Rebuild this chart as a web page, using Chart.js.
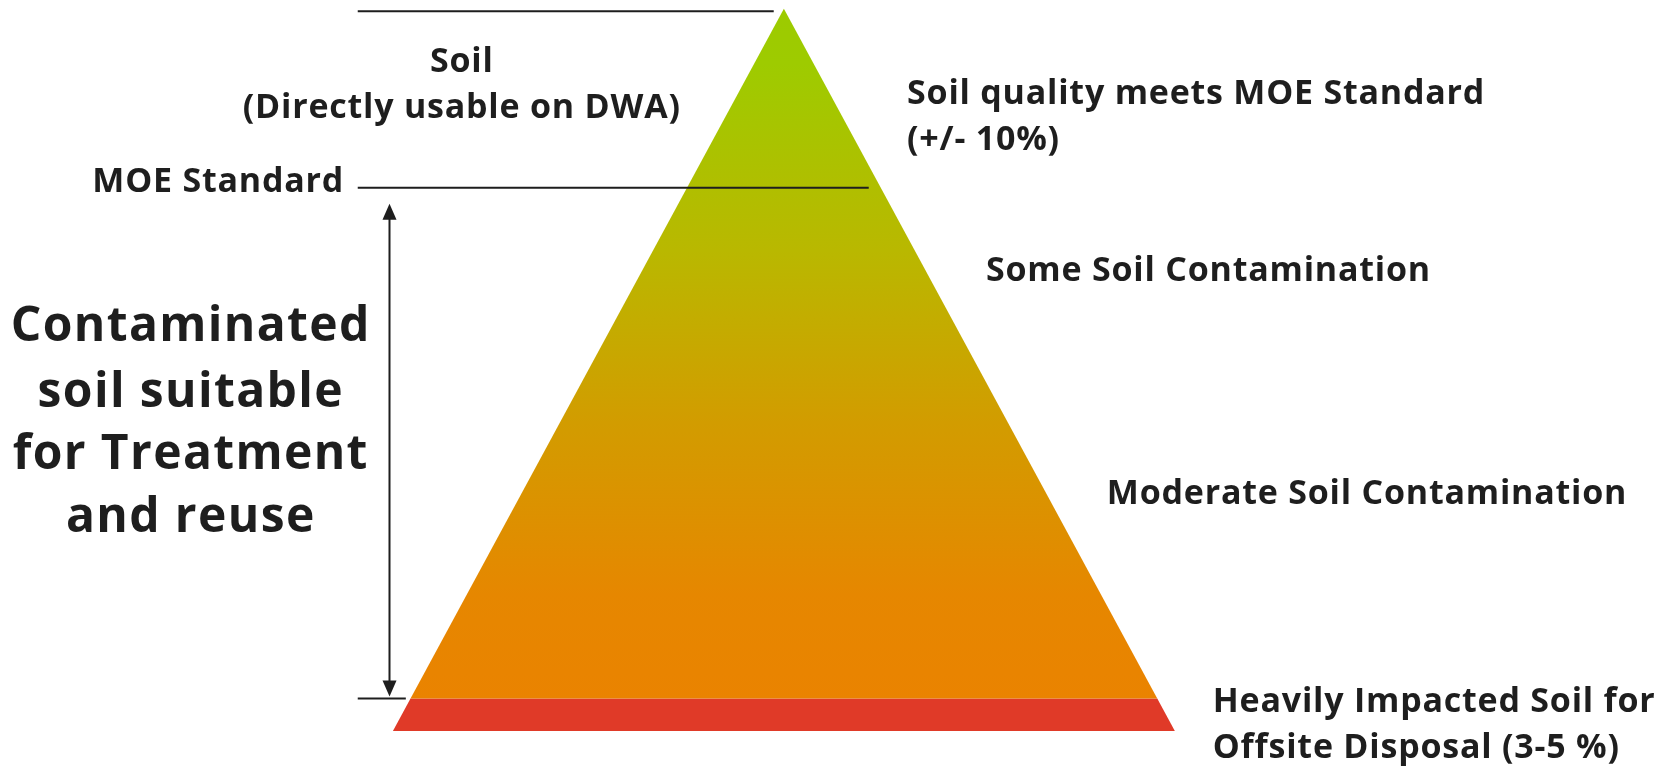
<!DOCTYPE html>
<html>
<head>
<meta charset="utf-8">
<script src="https://cdn.jsdelivr.net/npm/chart.js@4.4.1/dist/chart.umd.min.js"></script>
<style>
  html, body { margin: 0; padding: 0; background: #fff; }
  #wrap { width: 1662px; height: 766px; position: relative; }
</style>
</head>
<body>
<div id="wrap"><canvas id="pyramid"></canvas></div>
<script>
'use strict';

// Pyramid tiers, heights in % of the pyramid (0 = base, 100 = apex).
var tierNames = ['Heavily Impacted Soil', 'Contaminated soil', 'Soil'];
var tierBounds = [0, 4.5, 75.2, 100];
var baseHalfWidth = 100;

// Annotation texts
var rightLabels = [
  ['Soil quality meets MOE Standard', '(+/- 10%)'],
  ['Some Soil Contamination'],
  ['Moderate Soil Contamination'],
  ['Heavily Impacted Soil for', 'Offsite Disposal (3-5 %)']
];
var topLabel = ['Soil', '(Directly usable on DWA)'];
var moeLabel = 'MOE Standard';
var sideLabel = ['Contaminated', 'soil suitable', 'for Treatment', 'and reuse'];

// Where the labels sit, in chart units (x: % of half base, y: % height)
var rightLabelPos = [
  { x: 31.5, y: 88.2 },
  { x: 51.7, y: 63.7 },
  { x: 82.6, y: 32.8 },
  { x: 109.7, y: 4.0 }
];
var sideLabelY = [55.9, 46.7, 38.1, 29.4];
var leftX = -109;

var FONT = '"Open Sans", Lato, sans-serif';
var INK = '#1e1e1e';
var SMALL = 34, BIG = 48;

function halfWidthAt(h) {
  return baseHalfWidth * (1 - h / 100);
}

function polygon(h0, h1) {
  var pts = [
    { x: -halfWidthAt(h0), y: h0 },
    { x: -halfWidthAt(h1), y: h1 }
  ];
  if (halfWidthAt(h1) > 0) pts.push({ x: halfWidthAt(h1), y: h1 });
  pts.push({ x: halfWidthAt(h0), y: h0 });
  pts.push({ x: -halfWidthAt(h0), y: h0 });
  return pts;
}

function pyramidGradient(context) {
  var chart = context.chart;
  var y = chart.scales.y;
  if (!chart.chartArea || !y) return '#e98300';
  var top = y.getPixelForValue(100);
  var bot = y.getPixelForValue(tierBounds[1]);
  if (!isFinite(top) || !isFinite(bot)) return '#e98300';
  var g = chart.ctx.createLinearGradient(0, top, 0, bot);
  g.addColorStop(0, '#9ccb00');
  g.addColorStop(0.08, '#9ecb00');
  g.addColorStop(0.35, '#b9b800');
  g.addColorStop(0.6, '#d29c00');
  g.addColorStop(0.85, '#e68700');
  g.addColorStop(1, '#ea8300');
  return g;
}

// spacing so that the reference line has the wanted width
function spacingFor(ctx, text, width) {
  ctx.letterSpacing = '0px';
  var w = ctx.measureText(text).width;
  return Math.max(-1, (width - w) / text.length);
}

// Text, reference lines and the double arrow
var annotations = {
  id: 'annotations',
  afterDatasetsDraw: function(chart) {
    var ctx = chart.ctx;
    var sx = chart.scales.x, sy = chart.scales.y;
    var px = function(v) { return sx.getPixelForValue(v); };
    var py = function(v) { return sy.getPixelForValue(v); };

    ctx.save();
    ctx.strokeStyle = INK;
    ctx.lineWidth = 2;

    // reference lines
    ctx.beginPath();
    ctx.moveTo(px(leftX), py(tierBounds[3]) + 2.5);
    ctx.lineTo(px(-2.6), py(tierBounds[3]) + 2.5);
    ctx.moveTo(px(leftX), py(tierBounds[2]));
    ctx.lineTo(px(21.7), py(tierBounds[2]));
    ctx.moveTo(px(leftX), py(tierBounds[1]));
    ctx.lineTo(px(-96.7), py(tierBounds[1]));
    ctx.stroke();

    // double arrow between MOE standard and heavily impacted
    var ax = Math.round(px(-101)) + 0.5;
    var aTop = py(tierBounds[2]) + 16;
    var aBot = py(tierBounds[1]) - 2;
    ctx.beginPath();
    ctx.moveTo(ax, aTop + 14);
    ctx.lineTo(ax, aBot - 14);
    ctx.stroke();
    ctx.fillStyle = INK;
    ctx.beginPath();
    ctx.moveTo(ax, aTop);
    ctx.lineTo(ax - 7, aTop + 16);
    ctx.lineTo(ax + 7, aTop + 16);
    ctx.closePath();
    ctx.fill();
    ctx.beginPath();
    ctx.moveTo(ax, aBot);
    ctx.lineTo(ax - 7, aBot - 16);
    ctx.lineTo(ax + 7, aBot - 16);
    ctx.closePath();
    ctx.fill();

    ctx.fillStyle = INK;
    ctx.textBaseline = 'middle';

    // small labels share one size and spacing
    ctx.font = 'bold ' + SMALL + 'px ' + FONT;
    var sp = spacingFor(ctx, rightLabels[0][0], 578);
    ctx.letterSpacing = sp.toFixed(2) + 'px';

    // top label
    ctx.textAlign = 'center';
    ctx.fillText(topLabel[0], px(-82.4), py(92.6));
    ctx.fillText(topLabel[1], px(-82.4), py(86.2));

    // MOE standard
    ctx.textAlign = 'right';
    ctx.fillText(moeLabel, px(-112.5), py(75.9));

    // right side labels
    ctx.textAlign = 'left';
    rightLabels.forEach(function(lines, i) {
      var p = rightLabelPos[i];
      lines.forEach(function(t, j) {
        ctx.fillText(t, px(p.x), py(p.y) + j * 46);
      });
    });

    // big side label
    ctx.font = 'bold ' + BIG + 'px ' + FONT;
    var spBig = spacingFor(ctx, sideLabel[0], 360);
    ctx.letterSpacing = spBig.toFixed(2) + 'px';
    ctx.textAlign = 'center';
    sideLabel.forEach(function(t, i) {
      ctx.fillText(t, px(-151.7), py(sideLabelY[i]));
    });
    ctx.restore();
  }
};

new Chart(document.getElementById('pyramid'), {
  type: 'scatter',
  data: {
    datasets: [
      {
        label: tierNames[1] + ' / ' + tierNames[2],
        data: polygon(tierBounds[1], tierBounds[3]),
        showLine: true,
        fill: 'shape',
        backgroundColor: pyramidGradient,
        borderWidth: 0,
        pointRadius: 0,
        tension: 0
      },
      {
        label: tierNames[0],
        data: polygon(tierBounds[0], tierBounds[1]),
        showLine: true,
        fill: 'shape',
        backgroundColor: '#e03a28',
        borderWidth: 0,
        pointRadius: 0,
        tension: 0
      }
    ]
  },
  options: {
    responsive: true,
    maintainAspectRatio: false,
    animation: false,
    layout: { padding: 0 },
    plugins: {
      legend: { display: false },
      tooltip: { enabled: false }
    },
    scales: {
      x: { type: 'linear', display: false, min: -200.5, max: 224.6 },
      y: { type: 'linear', display: false, min: -4.84, max: 101.2 }
    }
  },
  plugins: [annotations]
});
</script>
</body>
</html>
